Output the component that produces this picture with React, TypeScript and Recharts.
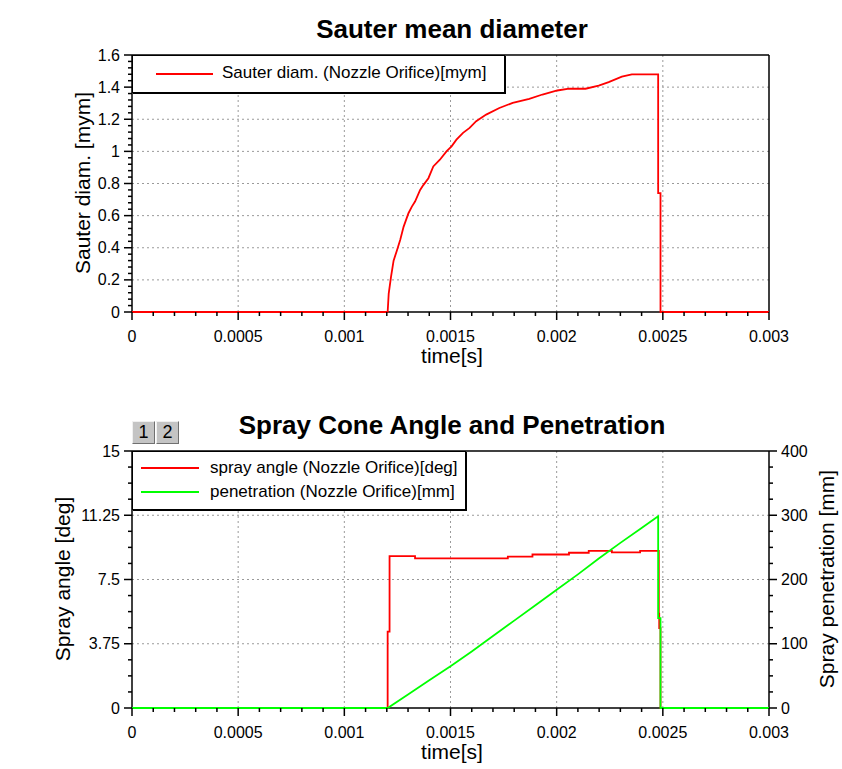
import React from 'react';
import { LineChart, Line, XAxis, YAxis, ReferenceLine } from 'recharts';

const FONT = '"Liberation Sans", Arial, Helvetica, sans-serif';

// ---- tick labels ----
const xMajorTicks = [0, 0.0005, 0.001, 0.0015, 0.002, 0.0025, 0.003];
const xAllTicks = [
  0, 0.0001, 0.0002, 0.0003, 0.0004, 0.0005, 0.0006, 0.0007, 0.0008, 0.0009,
  0.001, 0.0011, 0.0012, 0.0013, 0.0014, 0.0015, 0.0016, 0.0017, 0.0018, 0.0019,
  0.002, 0.0021, 0.0022, 0.0023, 0.0024, 0.0025, 0.0026, 0.0027, 0.0028, 0.0029, 0.003,
];
const sauterMajorTicks = [0, 0.2, 0.4, 0.6, 0.8, 1, 1.2, 1.4, 1.6];
const sauterAllTicks = [
  0, 0.04, 0.08, 0.12, 0.16, 0.2, 0.24, 0.28, 0.32, 0.36, 0.4, 0.44, 0.48, 0.52, 0.56, 0.6,
  0.64, 0.68, 0.72, 0.76, 0.8, 0.84, 0.88, 0.92, 0.96, 1, 1.04, 1.08, 1.12, 1.16, 1.2,
  1.24, 1.28, 1.32, 1.36, 1.4, 1.44, 1.48, 1.52, 1.56, 1.6,
];
const angleMajorTicks = [0, 3.75, 7.5, 11.25, 15];
const angleAllTicks = [
  0, 0.9375, 1.875, 2.8125, 3.75, 4.6875, 5.625, 6.5625, 7.5, 8.4375, 9.375, 10.3125,
  11.25, 12.1875, 13.125, 14.0625, 15,
];
const penMajorTicks = [0, 100, 200, 300, 400];
const penAllTicks = [0, 25, 50, 75, 100, 125, 150, 175, 200, 225, 250, 275, 300, 325, 350, 375, 400];

const xGridValues = [0.0005, 0.001, 0.0015, 0.002, 0.0025];
const sauterGridValues = [0.2, 0.4, 0.6, 0.8, 1, 1.2, 1.4];
const angleGridValues = [3.75, 7.5, 11.25];

// ---- series: Sauter mean diameter ----
const sauterTime = [
  0, 0.001204, 0.001209, 0.00122, 0.001232, 0.001248, 0.001263, 0.001279, 0.001302, 0.001318,
  0.001333, 0.001357, 0.001372, 0.001396, 0.001419, 0.00145, 0.001481, 0.001505, 0.001528,
  0.001559, 0.00159, 0.001621, 0.001668, 0.00173, 0.001793, 0.001871, 0.001933, 0.002003,
  0.002058, 0.002136, 0.002198, 0.002245, 0.002307, 0.002354, 0.002478, 0.002478, 0.002489,
  0.002489, 0.003,
];
const sauterValue = [
  0, 0, 0.115, 0.22, 0.32, 0.385, 0.448, 0.53, 0.615, 0.656,
  0.688, 0.76, 0.79, 0.833, 0.906, 0.948, 1.0, 1.031, 1.073,
  1.115, 1.146, 1.188, 1.229, 1.27, 1.302, 1.327, 1.354, 1.379,
  1.39, 1.39, 1.41, 1.431, 1.465, 1.48, 1.48, 0.74, 0.74,
  0, 0,
];

// ---- series: spray angle (stepped) ----
const angleTime = [
  0, 0.001204, 0.001213, 0.001333, 0.00177, 0.001886, 0.002058, 0.002151, 0.00226, 0.002393,
  0.002481, 0.002483, 0.002489, 0.003,
];
const angleValue = [
  0, 4.46, 8.865, 8.73, 8.83, 8.96, 9.06, 9.175, 9.08, 9.175,
  5.5, 4.66, 0, 0,
];

// ---- series: penetration ----
const penTime = [
  0, 0.001204, 0.0013, 0.0014, 0.0015, 0.0016, 0.0017, 0.0018, 0.0019, 0.002,
  0.0021, 0.0022, 0.0023, 0.0024, 0.002478, 0.002478, 0.002489, 0.002489, 0.003,
];
const penValue = [
  0, 0, 21, 43, 65, 88, 112, 136, 160, 184,
  208, 233, 257, 280, 298.5, 140, 140, 0, 0,
];

const sauterData = sauterTime.map((t, i) => ({ t, v: sauterValue[i] }));
const angleData = angleTime.map((t, i) => ({ t, v: angleValue[i] }));
const penData = penTime.map((t, i) => ({ t, v: penValue[i] }));

const isMajor = (v: number, majors: number[]) => majors.some((m) => Math.abs(m - v) < 1e-7);

const AXIS = '#000';

const makeXTick = (majors: number[]) => (props: any) => {
  const { x, y, payload } = props;
  const major = isMajor(payload.value, majors);
  return (
    <g>
      <line x1={x} y1={y} x2={x} y2={y + (major ? 8 : 4)} stroke={AXIS} strokeWidth={1.5} />
      {major && (
        <text x={x} y={y + 24} dy="0.35em" textAnchor="middle" fontSize={16} fontFamily={FONT} fill="#000">
          {String(payload.value)}
        </text>
      )}
    </g>
  );
};

const makeLeftTick = (majors: number[]) => (props: any) => {
  const { x, y, payload } = props;
  const major = isMajor(payload.value, majors);
  return (
    <g>
      <line x1={x} y1={y} x2={x - (major ? 8 : 4)} y2={y} stroke={AXIS} strokeWidth={1.5} />
      {major && (
        <text x={x - 12} y={y} dy="0.35em" textAnchor="end" fontSize={16} fontFamily={FONT} fill="#000">
          {String(payload.value)}
        </text>
      )}
    </g>
  );
};

const makeRightTick = (majors: number[]) => (props: any) => {
  const { x, y, payload } = props;
  const major = isMajor(payload.value, majors);
  return (
    <g>
      <line x1={x} y1={y} x2={x + (major ? 8 : 4)} y2={y} stroke={AXIS} strokeWidth={1.5} />
      {major && (
        <text x={x + 12} y={y} dy="0.35em" textAnchor="start" fontSize={16} fontFamily={FONT} fill="#000">
          {String(payload.value)}
        </text>
      )}
    </g>
  );
};

const GRID = { stroke: '#9a9a9a', strokeDasharray: '2 3', strokeWidth: 1 };

const Abs: React.FC<{ style: React.CSSProperties; children?: React.ReactNode }> = ({ style, children }) => (
  <div style={{ position: 'absolute', whiteSpace: 'nowrap', ...style }}>{children}</div>
);

const CenterText: React.FC<{ cx: number; cy: number; size: number; bold?: boolean; rotate?: number; text: string }> = ({
  cx, cy, size, bold, rotate, text,
}) => (
  <div
    style={{
      position: 'absolute',
      left: cx,
      top: cy,
      transform: `translate(-50%, -50%) rotate(${rotate || 0}deg)`,
      fontSize: size,
      lineHeight: `${size}px`,
      fontWeight: bold ? 700 : 400,
      whiteSpace: 'nowrap',
      color: '#000',
    }}
  >
    {text}
  </div>
);

const LegendRow: React.FC<{ color: string; label: string; top: number }> = ({ color, label, top }) => (
  <div style={{ position: 'absolute', left: 0, top, height: 20, width: '100%' }}>
    <div style={{ position: 'absolute', left: 8, top: 9, width: 58, height: 2, background: color }} />
    <div style={{ position: 'absolute', left: 77, top: 0, fontSize: 17, lineHeight: '20px' }}>{label}</div>
  </div>
);

const btnStyle: React.CSSProperties = {
  width: 23, height: 23, top: 421, background: '#c4c4c4',
  borderStyle: 'solid', borderWidth: 1, borderColor: '#f0f0f0 #707070 #707070 #f0f0f0',
  boxSizing: 'border-box', fontSize: 18, lineHeight: '21px', textAlign: 'center',
};

export default function App() {
  return (
    <div
      style={{
        position: 'absolute',
        left: 0,
        top: 0,
        width: 842,
        height: 769,
        background: '#fff',
        fontFamily: FONT,
        overflow: 'hidden',
      }}
    >
      {/* ---- top chart ---- */}
      <div style={{ position: 'absolute', left: 0, top: 0 }}>
        <LineChart width={842} height={385} data={sauterData} margin={{ top: 55, right: 73, bottom: 13, left: 32 }}>
          {xGridValues.map((v) => (
            <ReferenceLine key={'gx' + v} x={v} {...GRID} />
          ))}
          {sauterGridValues.map((v) => (
            <ReferenceLine key={'gy' + v} y={v} {...GRID} />
          ))}
          <ReferenceLine y={1.6} stroke={AXIS} strokeWidth={1.5} />
          <ReferenceLine x={0.003} stroke={AXIS} strokeWidth={1.5} />
          <XAxis
            dataKey="t"
            type="number"
            domain={[0, 0.003]}
            ticks={xAllTicks}
            interval={0}
            tick={makeXTick(xMajorTicks)}
            tickLine={false}
            tickSize={0}
            tickMargin={0}
            height={60}
            axisLine={{ stroke: AXIS, strokeWidth: 1.5 }}
          />
          <YAxis
            type="number"
            domain={[0, 1.6]}
            ticks={sauterAllTicks}
            interval={0}
            tick={makeLeftTick(sauterMajorTicks)}
            tickLine={false}
            tickSize={0}
            tickMargin={0}
            width={100}
            axisLine={{ stroke: AXIS, strokeWidth: 1.5 }}
          />
          <Line
            type="linear"
            dataKey="v"
            stroke="#ff0000"
            strokeWidth={1.8}
            dot={false}
            activeDot={false}
            isAnimationActive={false}
            {...({ zIndex: 700 } as any)}
          />
        </LineChart>
      </div>

      <CenterText cx={452} cy={29} size={26} bold text="Sauter mean diameter" />
      <CenterText cx={452} cy={355} size={21} text="time[s]" />
      <CenterText cx={82} cy={183} size={21} rotate={-90} text="Sauter diam. [mym]" />

      <Abs
        style={{
          left: 132,
          top: 55,
          width: 373,
          height: 38,
          background: '#fff',
          border: '1px solid #000',
          boxShadow: '1px 1px 0 #000',
          boxSizing: 'border-box',
        }}
      >
        <div style={{ position: 'absolute', left: 23, top: 17, width: 57, height: 2, background: '#ff0000' }} />
        <div style={{ position: 'absolute', left: 89, top: 7, fontSize: 17, lineHeight: '20px' }}>
          Sauter diam. (Nozzle Orifice)[mym]
        </div>
      </Abs>

      {/* ---- bottom chart ---- */}
      <div style={{ position: 'absolute', left: 0, top: 396 }}>
        <LineChart width={842} height={373} margin={{ top: 55, right: 13, bottom: 11, left: 32 }}>
          {xGridValues.map((v) => (
            <ReferenceLine key={'bgx' + v} x={v} yAxisId="left" {...GRID} />
          ))}
          {angleGridValues.map((v) => (
            <ReferenceLine key={'bgy' + v} y={v} yAxisId="left" {...GRID} />
          ))}
          <ReferenceLine y={15} yAxisId="left" stroke={AXIS} strokeWidth={1.5} />
          <XAxis
            dataKey="t"
            type="number"
            domain={[0, 0.003]}
            ticks={xAllTicks}
            interval={0}
            tick={makeXTick(xMajorTicks)}
            tickLine={false}
            tickSize={0}
            tickMargin={0}
            height={50}
            axisLine={{ stroke: AXIS, strokeWidth: 1.5 }}
          />
          <YAxis
            yAxisId="left"
            orientation="left"
            type="number"
            domain={[0, 15]}
            ticks={angleAllTicks}
            interval={0}
            tick={makeLeftTick(angleMajorTicks)}
            tickLine={false}
            tickSize={0}
            tickMargin={0}
            width={100}
            axisLine={{ stroke: AXIS, strokeWidth: 1.5 }}
          />
          <YAxis
            yAxisId="right"
            orientation="right"
            type="number"
            domain={[0, 400]}
            ticks={penAllTicks}
            interval={0}
            tick={makeRightTick(penMajorTicks)}
            tickLine={false}
            tickSize={0}
            tickMargin={0}
            width={60}
            axisLine={{ stroke: AXIS, strokeWidth: 1.5 }}
          />
          <Line
            data={angleData}
            yAxisId="left"
            type="stepAfter"
            dataKey="v"
            stroke="#ff0000"
            strokeWidth={1.8}
            dot={false}
            activeDot={false}
            isAnimationActive={false}
            {...({ zIndex: 700 } as any)}
          />
          <Line
            data={penData}
            yAxisId="right"
            type="linear"
            dataKey="v"
            stroke="#00ff00"
            strokeWidth={1.8}
            dot={false}
            activeDot={false}
            isAnimationActive={false}
            {...({ zIndex: 710 } as any)}
          />
        </LineChart>
      </div>

      <CenterText cx={452} cy={425} size={26} bold text="Spray Cone Angle and Penetration" />
      <CenterText cx={452} cy={751} size={21} text="time[s]" />
      <CenterText cx={62} cy={579} size={21} rotate={-90} text="Spray angle [deg]" />
      <CenterText cx={826} cy={579} size={21} rotate={-90} text="Spray penetration [mm]" />

      {/* page buttons */}
      <Abs style={{ ...btnStyle, left: 132 }}>1</Abs>
      <Abs style={{ ...btnStyle, left: 156 }}>2</Abs>

      <Abs
        style={{
          left: 132,
          top: 451,
          width: 334,
          height: 59,
          background: '#fff',
          border: '1px solid #000',
          boxShadow: '1px 1px 0 #000',
          boxSizing: 'border-box',
        }}
      >
        <div style={{ position: 'absolute', left: 0, top: 6, width: '100%' }}>
          <LegendRow color="#ff0000" label="spray angle (Nozzle Orifice)[deg]" top={0} />
          <LegendRow color="#00ff00" label="penetration (Nozzle Orifice)[mm]" top={24} />
        </div>
      </Abs>
    </div>
  );
}
